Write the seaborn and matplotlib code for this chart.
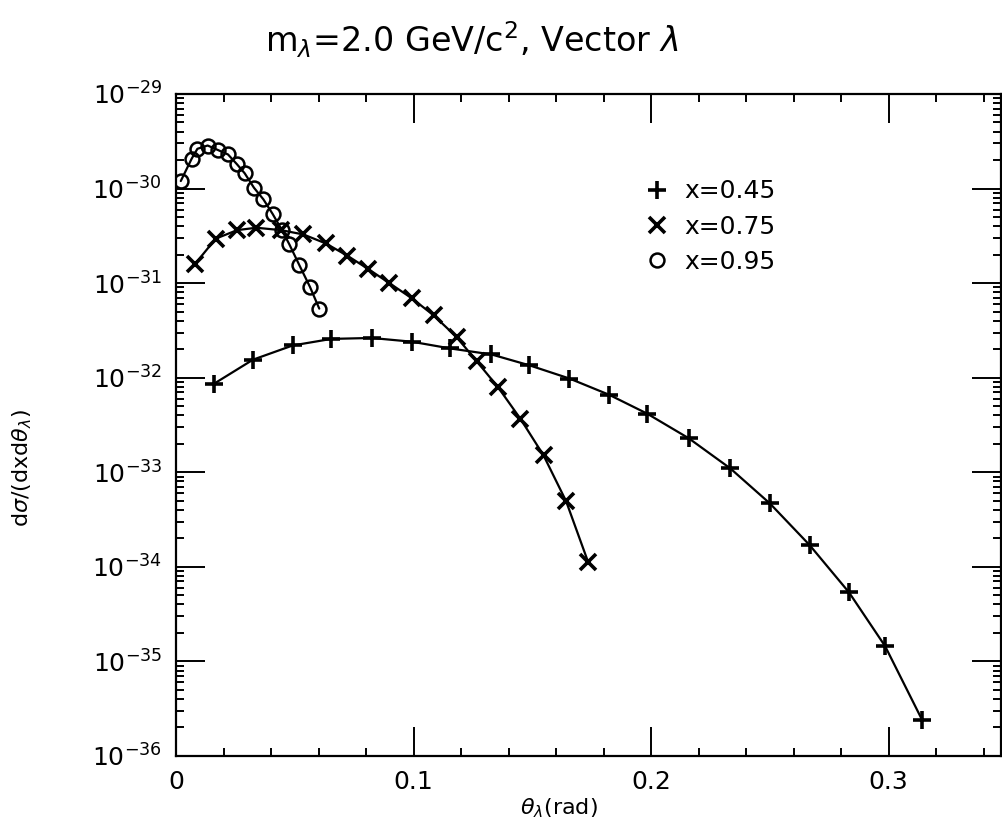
import numpy as np
import pandas as pd
import matplotlib
matplotlib.use('Agg')
import matplotlib.pyplot as plt
import seaborn as sns
from matplotlib.lines import Line2D
from matplotlib.ticker import LogLocator, MultipleLocator, NullFormatter

# data (theta in rad, d sigma / (dx d theta))
theta_045 = [0.016, 0.0324, 0.0491, 0.0654, 0.0823, 0.0993, 0.1153, 0.1328, 0.1488, 0.1656,
             0.1823, 0.1983, 0.2158, 0.2333, 0.25, 0.2667, 0.2833, 0.2985, 0.3141]
sigma_045 = [8.63e-33, 1.55e-32, 2.19e-32, 2.57e-32, 2.63e-32, 2.40e-32, 2.04e-32, 1.76e-32,
             1.35e-32, 9.8e-33, 6.6e-33, 4.17e-33, 2.29e-33, 1.10e-33, 4.68e-34, 1.70e-34,
             5.37e-35, 1.45e-35, 2.40e-36]

theta_075 = [0.0079, 0.0167, 0.0257, 0.0338, 0.0442, 0.0536, 0.063, 0.0721, 0.0809, 0.0898,
             0.0993, 0.1084, 0.1181, 0.1265, 0.1356, 0.145, 0.1547, 0.1642, 0.1735]
sigma_075 = [1.58e-31, 2.95e-31, 3.63e-31, 3.85e-31, 3.63e-31, 3.27e-31, 2.63e-31, 1.95e-31,
             1.41e-31, 1.0e-31, 6.9e-32, 4.57e-32, 2.69e-32, 1.50e-32, 7.9e-33, 3.67e-33,
             1.51e-33, 4.95e-34, 1.12e-34]

theta_095 = [0.002, 0.0066, 0.009, 0.0133, 0.0177, 0.0219, 0.0257, 0.0289, 0.0328, 0.0368,
             0.0407, 0.0446, 0.0477, 0.0519, 0.0564, 0.0603]
sigma_095 = [1.20e-30, 2.07e-30, 2.63e-30, 2.85e-30, 2.55e-30, 2.29e-30, 1.80e-30, 1.45e-30,
             1.02e-30, 7.67e-31, 5.37e-31, 3.63e-31, 2.57e-31, 1.55e-31, 9.1e-32, 5.37e-32]

series_labels = ['x=0.45', 'x=0.75', 'x=0.95']
y_decades = [1e-36, 1e-35, 1e-34, 1e-33, 1e-32, 1e-31, 1e-30, 1e-29]
x_ticks = [0, 0.1, 0.2, 0.3]
x_ticklabels = ['0', '0.1', '0.2', '0.3']

sns.set_style('ticks')
plt.rcParams['font.family'] = ['DejaVu Sans']
plt.rcParams['text.color'] = 'black'
plt.rcParams['xtick.color'] = 'black'
plt.rcParams['ytick.color'] = 'black'
plt.rcParams['axes.labelcolor'] = 'black'

fig = plt.figure(figsize=(10.03, 8.3), dpi=100)
ax = fig.add_axes([0.1755, 0.0892, 0.823, 0.7976])

styles = [
    dict(marker='+', markersize=13, markeredgewidth=2.6, markerfacecolor='black'),
    dict(marker='x', markersize=11, markeredgewidth=2.6, markerfacecolor='black'),
    dict(marker='o', markersize=10, markeredgewidth=1.8, markerfacecolor='none'),
]
for th, sg, st in zip([theta_045, theta_075, theta_095],
                      [sigma_045, sigma_075, sigma_095], styles):
    d = pd.DataFrame({'theta': th, 'sigma': sg})
    sns.lineplot(data=d, x='theta', y='sigma', ax=ax, color='black', lw=1.6,
                 estimator=None, sort=True, markeredgecolor='black', **st)

ax.set_yscale('log')
ax.set_xlim(0, 0.3475)
ax.set_ylim(1e-36, 1e-29)
ax.set_xticks(x_ticks)
ax.set_xticklabels(x_ticklabels)
ax.xaxis.set_minor_locator(MultipleLocator(0.02))
ax.set_yticks(y_decades)
ax.yaxis.set_minor_locator(LogLocator(base=10, subs=np.arange(2, 10), numticks=20))
ax.yaxis.set_minor_formatter(NullFormatter())

ax.tick_params(which='both', direction='in', top=True, right=True, color='black')
ax.tick_params(which='major', length=21, width=1.4, labelsize=18, pad=10)
ax.tick_params(which='minor', length=6, width=1.4)
for s in ax.spines.values():
    s.set_linewidth(1.6)
    s.set_color('black')
ax.set_xlabel('')
ax.set_ylabel('')

fig.text(559 / 1003, 1 - 808 / 830, r'$\theta_\lambda$(rad)', ha='center', va='center', fontsize=16)
fig.text(22 / 1003, 1 - 468 / 830, r'd$\sigma$/(dxd$\theta_\lambda$)', ha='center', va='center',
         rotation=90, fontsize=16)
fig.text(472 / 1003, 1 - 40 / 830, r'm$_\lambda$=2.0 GeV/c$^2$, Vector $\lambda$',
         ha='center', va='center', fontsize=24)

handles = [Line2D([], [], color='black', linestyle='none', markeredgecolor='black', **st) for st in styles]
fig.legend(handles, series_labels, loc='upper left', bbox_to_anchor=(632 / 1003, 1 - 167 / 830),
           frameon=False, fontsize=18, handlelength=1.0, handletextpad=0.6, labelspacing=0.45,
           borderpad=0)

fig.savefig('out.png', dpi=100)
